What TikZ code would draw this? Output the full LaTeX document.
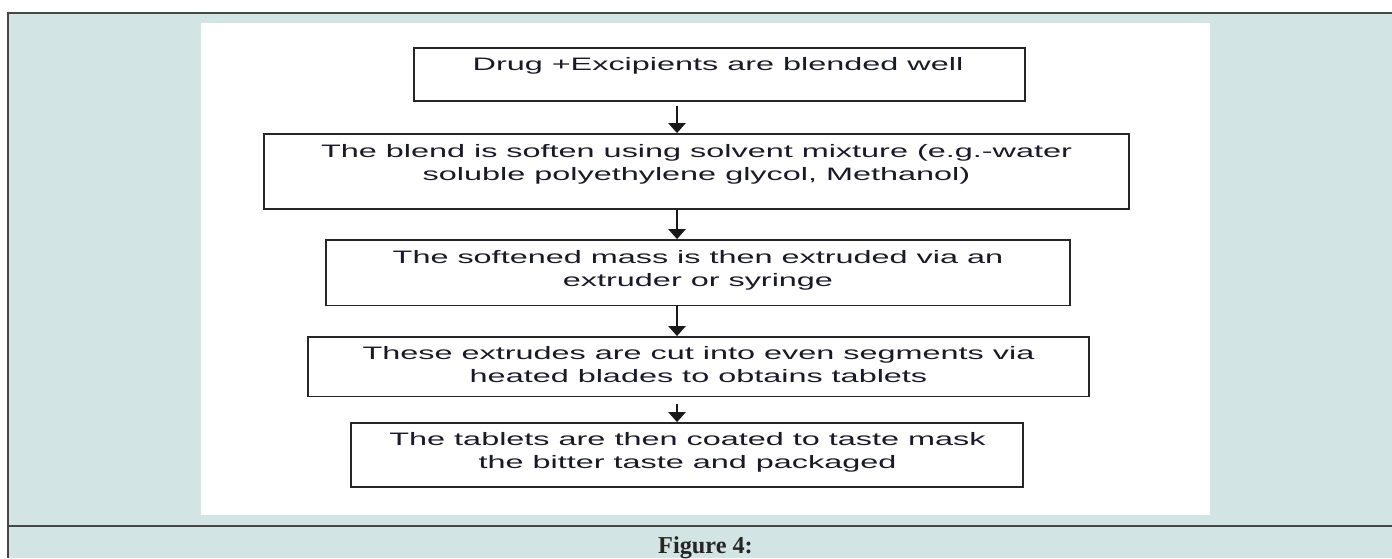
\documentclass[tikz,border=0pt]{standalone}
\usepackage{fontspec}
\usetikzlibrary{arrows.meta}
\newfontfamily\boxfont[FakeStretch=1.8]{Liberation Sans}
\newfontfamily\capfont{Liberation Serif}
\definecolor{panelbg}{RGB}{210,229,228}
\definecolor{framecol}{RGB}{70,70,70}
\definecolor{txtcol}{RGB}{25,25,40}
\tikzset{
  stepbox/.style={draw=black!85, line width=1.4pt, fill=white, inner sep=0pt},
  steptext/.style={font=\boxfont\fontsize{13.5}{17.25}\selectfont, text=txtcol, align=center, anchor=base, inner sep=0pt},
  flowarrow/.style={line width=1.3pt, black!90, -{Triangle[width=13pt,length=7.5pt]}},
}
\begin{document}
\begin{tikzpicture}[x=0.75pt,y=-0.75pt]
\useasboundingbox (0,0) rectangle (1392,558);
% background and frame
\fill[panelbg] (8,13) rectangle (1392,558);
\draw[framecol, line width=1.3pt] (1392,13) -- (8,13) -- (8,558);
\draw[framecol, line width=1.3pt] (8,525.7) -- (1392,525.7);
\fill[white] (201,23) rectangle (1210,515);
% boxes
\node[stepbox, minimum width=611*0.75pt, minimum height=53*0.75pt] (b1) at (719.5,74.5) {};
\node[stepbox, minimum width=865*0.75pt, minimum height=75*0.75pt] (b2) at (696.5,171.5) {};
\node[stepbox, minimum width=744*0.75pt, minimum height=65.5*0.75pt] (b3) at (698,272.75) {};
\node[stepbox, minimum width=781*0.75pt, minimum height=59.5*0.75pt] (b4) at (698.5,366.75) {};
\node[stepbox, minimum width=672*0.75pt, minimum height=64*0.75pt] (b5) at (687,455) {};
% texts (base anchor = baseline of the last line)
\node[steptext] (t1) at (718,70.5) {Drug +Excipients are blended well};
\node[steptext] (t2) at (696.5,180) {The blend is soften using solvent mixture (e.g.-water\\soluble polyethylene glycol, Methanol)};
\node[steptext] (t3) at (698,286) {The softened mass is then extruded via an\\extruder or syringe};
\node[steptext] (t4) at (698.5,382) {These extrudes are cut into even segments via\\heated blades to obtains tablets};
\node[steptext] (t5) at (687.5,468.5) {The tablets are then coated to taste mask\\the bitter taste and packaged};
% arrows
\coordinate (ax) at (677,0);
\draw[flowarrow] ([yshift=-3pt]b1.south -| ax) -- (b2.north -| ax);
\draw[flowarrow] (b2.south -| ax) -- (b3.north -| ax);
\draw[flowarrow] (b3.south -| ax) -- (b4.north -| ax);
\draw[flowarrow] ([yshift=-5pt]b4.south -| ax) -- (b5.north -| ax);
% caption
\node[font=\capfont\bfseries\fontsize{18.2}{20}\selectfont, text=black!85, anchor=base, inner sep=0pt] (cap) at (705.5,553) {Figure 4:};
\end{tikzpicture}
\end{document}
